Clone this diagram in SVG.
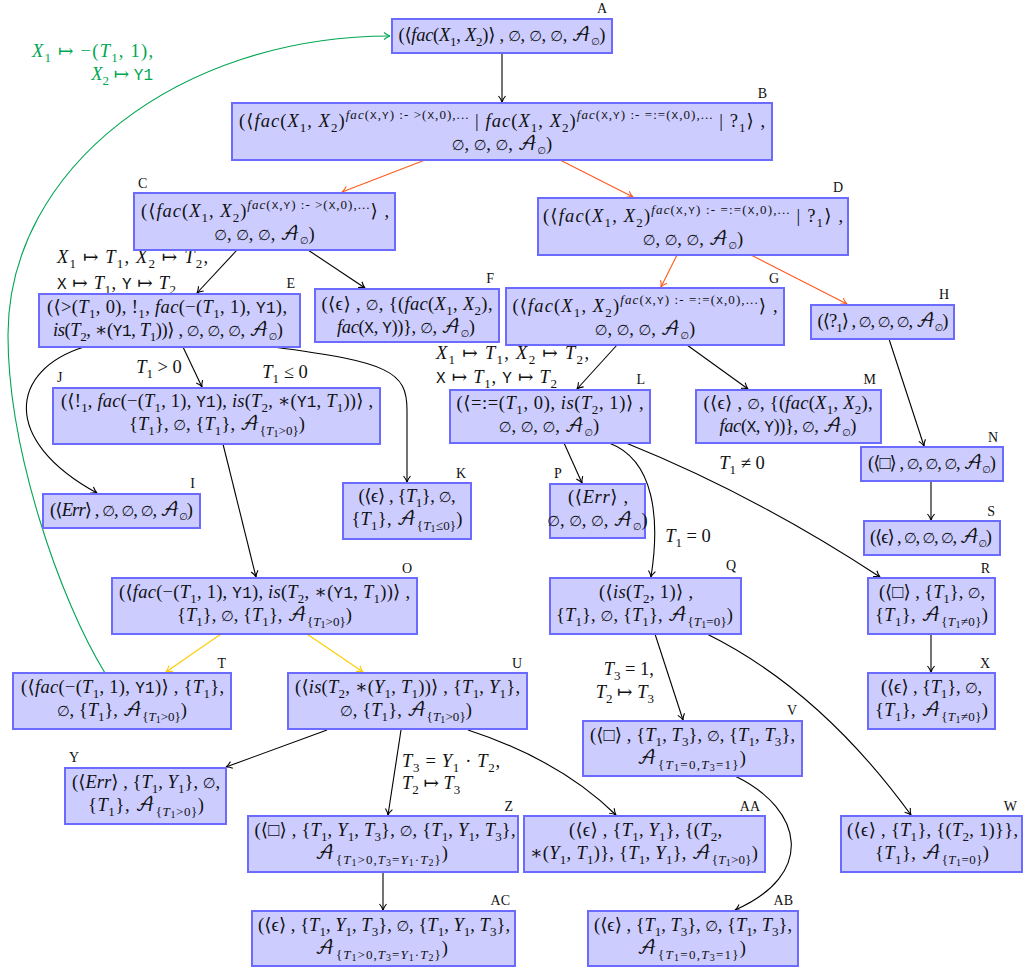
<svg xmlns="http://www.w3.org/2000/svg" width="1023" height="969" viewBox="0 0 1023 969">
<style>
text{font-family:"Liberation Serif","DejaVu Serif",serif;font-size:18.5px;fill:#111}
.c{text-anchor:middle}
.e{text-anchor:end}
.i{font-style:italic}
.tt{font-family:"Liberation Mono","DejaVu Sans Mono",monospace;font-size:16px}
.ts{font-family:"Liberation Mono","DejaVu Sans Mono",monospace;font-size:11px}
.sb{font-size:13px;baseline-shift:-4.5px}
.s2{font-size:10px;baseline-shift:-2.5px}
.sp{font-size:13px;baseline-shift:8px}
.es{font-family:"DejaVu Sans",sans-serif;font-size:14.5px}
.s0{font-family:"DejaVu Sans",sans-serif;font-size:10px;baseline-shift:-4px}
.cal{font-family:"DejaVu Math TeX Gyre","Noto Sans Math","DejaVu Serif",serif;font-style:normal}
.lb{font-size:14px}
.box{fill:#ccccff;stroke:#6b6bff;stroke-width:2}
.ed{fill:none;stroke:#000;stroke-width:1.1;marker-end:url(#ak)}
.or{stroke:#ff5a1a;marker-end:url(#ao)}
.ye{stroke:#ffcc00;marker-end:url(#ay)}
.gr{stroke:#00a651;marker-end:url(#ag)}
.gl{fill:#00a651}
</style>
<defs>
<marker id="ak" viewBox="-8 -5 10 10" refX="0" refY="0" markerWidth="10" markerHeight="10" markerUnits="userSpaceOnUse" orient="auto"><path d="M-6,-3.5 Q-2.5,-0.6 0,0 Q-2.5,0.6 -6,3.5" fill="none" stroke="#000" stroke-width="1.1"/></marker>
<marker id="ao" viewBox="-8 -5 10 10" refX="0" refY="0" markerWidth="10" markerHeight="10" markerUnits="userSpaceOnUse" orient="auto"><path d="M-6,-3.5 Q-2.5,-0.6 0,0 Q-2.5,0.6 -6,3.5" fill="none" stroke="#ff5a1a" stroke-width="1.1"/></marker>
<marker id="ay" viewBox="-8 -5 10 10" refX="0" refY="0" markerWidth="10" markerHeight="10" markerUnits="userSpaceOnUse" orient="auto"><path d="M-6,-3.5 Q-2.5,-0.6 0,0 Q-2.5,0.6 -6,3.5" fill="none" stroke="#ffcc00" stroke-width="1.1"/></marker>
<marker id="ag" viewBox="-8 -5 10 10" refX="0" refY="0" markerWidth="10" markerHeight="10" markerUnits="userSpaceOnUse" orient="auto"><path d="M-6,-3.5 Q-2.5,-0.6 0,0 Q-2.5,0.6 -6,3.5" fill="none" stroke="#00a651" stroke-width="1.1"/></marker>
</defs>

<!-- connectors -->
<g id="edges">
<path class="ed" d="M502,53 L502,102"/>
<path class="ed or" d="M425,160 L342,192"/>
<path class="ed or" d="M560,160 L633,197"/>
<path class="ed" d="M237,250 L197,293"/>
<path class="ed" d="M308,250 L365,288"/>
<path class="ed or" d="M677,255 L661,287"/>
<path class="ed or" d="M751,255 L847,304"/>
<path class="ed" d="M84,347 C10,370 0,440 97,493"/>
<path class="ed" d="M183,347 L202,387"/>
<path class="ed" d="M273,347 C390,362 407,372 407,410 L407,482"/>
<path class="ed" d="M223,444 L256,577"/>
<path class="ed" d="M617,345 L577,389"/>
<path class="ed" d="M687,345 L748,389"/>
<path class="ed" d="M889,339 L924,446"/>
<path class="ed" d="M564,443 L582,483"/>
<path class="ed" d="M609,443 C655,460 660,520 651,577"/>
<path class="ed" d="M626,443 Q755,495 880,577"/>
<path class="ed" d="M931,481 L931,520"/>
<path class="ed ye" d="M221,634 L166,672"/>
<path class="ed ye" d="M307,634 L363,672"/>
<path class="ed" d="M655,634 L683,720"/>
<path class="ed" d="M707,634 Q820,690 911,815"/>
<path class="ed" d="M931,634 L931,672"/>
<path class="ed gr" d="M105,673 C60,600 8,450 8,335 C8,168 180,36 390,36"/>
<path class="ed" d="M327,730 L226,767"/>
<path class="ed" d="M401,730 L388,815"/>
<path class="ed" d="M468,730 Q560,760 616,815"/>
<path class="ed" d="M735,776 C805,810 815,875 735,910"/>
<path class="ed" d="M383,872 L383,910"/>
</g>

<!-- edge labels -->
<g id="edge-labels">
<text x="57" y="263" textLength="151"><tspan class="i">X</tspan><tspan class="sb">1</tspan> ↦ <tspan class="i">T</tspan><tspan class="sb">1</tspan>, <tspan class="i">X</tspan><tspan class="sb">2</tspan> ↦ <tspan class="i">T</tspan><tspan class="sb">2</tspan>,</text>
<text x="57" y="289" textLength="119"><tspan class="tt">X</tspan> ↦ <tspan class="i">T</tspan><tspan class="sb">1</tspan>, <tspan class="tt">Y</tspan> ↦ <tspan class="i">T</tspan><tspan class="sb">2</tspan></text>
<text x="436" y="359" textLength="153"><tspan class="i">X</tspan><tspan class="sb">1</tspan> ↦ <tspan class="i">T</tspan><tspan class="sb">1</tspan>, <tspan class="i">X</tspan><tspan class="sb">2</tspan> ↦ <tspan class="i">T</tspan><tspan class="sb">2</tspan>,</text>
<text x="436" y="383" textLength="121"><tspan class="tt">X</tspan> ↦ <tspan class="i">T</tspan><tspan class="sb">1</tspan>, <tspan class="tt">Y</tspan> ↦ <tspan class="i">T</tspan><tspan class="sb">2</tspan></text>
<text class="c" x="159" y="373"><tspan class="i">T</tspan><tspan class="sb">1</tspan> &gt; 0</text>
<text class="c" x="285" y="378"><tspan class="i">T</tspan><tspan class="sb">1</tspan> ≤ 0</text>
<text class="c" x="742" y="469"><tspan class="i">T</tspan><tspan class="sb">1</tspan> ≠ 0</text>
<text class="c" x="688" y="542"><tspan class="i">T</tspan><tspan class="sb">1</tspan> = 0</text>
<text class="e" x="654" y="675"><tspan class="i">T</tspan><tspan class="sb">3</tspan> = 1,</text>
<text class="e" x="654" y="698"><tspan class="i">T</tspan><tspan class="sb">2</tspan> ↦ <tspan class="i">T</tspan><tspan class="sb">3</tspan></text>
<text x="402" y="767" textLength="98"><tspan class="i">T</tspan><tspan class="sb">3</tspan> = <tspan class="i">Y</tspan><tspan class="sb">1</tspan> · <tspan class="i">T</tspan><tspan class="sb">2</tspan>,</text>
<text x="402" y="789"><tspan class="i">T</tspan><tspan class="sb">2</tspan> ↦ <tspan class="i">T</tspan><tspan class="sb">3</tspan></text>
<text class="e gl" x="153" y="57" textLength="121"><tspan class="i">X</tspan><tspan class="sb">1</tspan> ↦ −(<tspan class="i">T</tspan><tspan class="sb">1</tspan>, 1),</text>
<text class="e gl" x="153" y="80"><tspan class="i">X</tspan><tspan class="sb">2</tspan> ↦ <tspan class="tt">Y1</tspan></text>
</g>

<!-- nodes -->
<g id="A"><rect class="box" x="392" y="19" width="220" height="34"/>
<text class="c" x="502" y="41" textLength="207">(⟨<tspan class="i">fac</tspan>(<tspan class="i">X</tspan><tspan class="sb">1</tspan>, <tspan class="i">X</tspan><tspan class="sb">2</tspan>)⟩ , <tspan class="es">∅</tspan>, <tspan class="es">∅</tspan>, <tspan class="es">∅</tspan>, <tspan class="cal">𝒜</tspan><tspan class="s0">∅</tspan>)</text>
<text class="lb e" x="607" y="13">A</text></g>

<g id="B"><rect class="box" x="232" y="103" width="540" height="57"/>
<text class="c" x="502" y="127" textLength="526">(⟨<tspan class="i">fac</tspan>(<tspan class="i">X</tspan><tspan class="sb">1</tspan>, <tspan class="i">X</tspan><tspan class="sb">2</tspan>)<tspan class="sp"><tspan class="i">fac</tspan>(<tspan class="ts">X</tspan>,<tspan class="ts">Y</tspan>) :- &gt;(<tspan class="ts">X</tspan>,0),...</tspan> | <tspan class="i">fac</tspan>(<tspan class="i">X</tspan><tspan class="sb">1</tspan>, <tspan class="i">X</tspan><tspan class="sb">2</tspan>)<tspan class="sp"><tspan class="i">fac</tspan>(<tspan class="ts">X</tspan>,<tspan class="ts">Y</tspan>) :- =:=(<tspan class="ts">X</tspan>,0),...</tspan> | ?<tspan class="sb">1</tspan>⟩ ,</text>
<text class="c" x="502" y="150"><tspan class="es">∅</tspan>, <tspan class="es">∅</tspan>, <tspan class="es">∅</tspan>, <tspan class="cal">𝒜</tspan><tspan class="s0">∅</tspan>)</text>
<text class="lb e" x="767" y="98">B</text></g>

<g id="C"><rect class="box" x="134" y="193" width="261" height="57"/>
<text class="c" x="265" y="217" textLength="248">(⟨<tspan class="i">fac</tspan>(<tspan class="i">X</tspan><tspan class="sb">1</tspan>, <tspan class="i">X</tspan><tspan class="sb">2</tspan>)<tspan class="sp"><tspan class="i">fac</tspan>(<tspan class="ts">X</tspan>,<tspan class="ts">Y</tspan>) :- &gt;(<tspan class="ts">X</tspan>,0),...</tspan>⟩ ,</text>
<text class="c" x="264.5" y="240"><tspan class="es">∅</tspan>, <tspan class="es">∅</tspan>, <tspan class="es">∅</tspan>, <tspan class="cal">𝒜</tspan><tspan class="s0">∅</tspan>)</text>
<text class="lb" x="138" y="188">C</text></g>

<g id="D"><rect class="box" x="538" y="198" width="310" height="57"/>
<text class="c" x="693" y="222" textLength="300">(⟨<tspan class="i">fac</tspan>(<tspan class="i">X</tspan><tspan class="sb">1</tspan>, <tspan class="i">X</tspan><tspan class="sb">2</tspan>)<tspan class="sp"><tspan class="i">fac</tspan>(<tspan class="ts">X</tspan>,<tspan class="ts">Y</tspan>) :- =:=(<tspan class="ts">X</tspan>,0),...</tspan> | ?<tspan class="sb">1</tspan>⟩ ,</text>
<text class="c" x="693" y="245"><tspan class="es">∅</tspan>, <tspan class="es">∅</tspan>, <tspan class="es">∅</tspan>, <tspan class="cal">𝒜</tspan><tspan class="s0">∅</tspan>)</text>
<text class="lb e" x="843" y="192">D</text></g>

<g id="E"><rect class="box" x="39" y="294" width="261" height="53"/>
<text class="c" x="167" y="313" textLength="240">(⟨&gt;(<tspan class="i">T</tspan><tspan class="sb">1</tspan>, 0), !<tspan class="sb">1</tspan>, <tspan class="i">fac</tspan>(−(<tspan class="i">T</tspan><tspan class="sb">1</tspan>, 1), <tspan class="tt">Y1</tspan>),</text>
<text class="c" x="168" y="336" textLength="230"><tspan class="i">is</tspan>(<tspan class="i">T</tspan><tspan class="sb">2</tspan>, ∗(<tspan class="tt">Y1</tspan>, <tspan class="i">T</tspan><tspan class="sb">1</tspan>))⟩ , <tspan class="es">∅</tspan>, <tspan class="es">∅</tspan>, <tspan class="es">∅</tspan>, <tspan class="cal">𝒜</tspan><tspan class="s0">∅</tspan>)</text>
<text class="lb e" x="295" y="288">E</text></g>

<g id="F"><rect class="box" x="315" y="289" width="184" height="53"/>
<text class="c" x="407" y="310" textLength="171">(⟨ϵ⟩ , <tspan class="es">∅</tspan>, {(<tspan class="i">fac</tspan>(<tspan class="i">X</tspan><tspan class="sb">1</tspan>, <tspan class="i">X</tspan><tspan class="sb">2</tspan>),</text>
<text class="c" x="406" y="333" textLength="138"><tspan class="i">fac</tspan>(<tspan class="tt">X</tspan>, <tspan class="tt">Y</tspan>))}, <tspan class="es">∅</tspan>, <tspan class="cal">𝒜</tspan><tspan class="s0">∅</tspan>)</text>
<text class="lb e" x="494" y="283">F</text></g>

<g id="G"><rect class="box" x="506" y="288" width="278" height="57"/>
<text class="c" x="645" y="312" textLength="265">(⟨<tspan class="i">fac</tspan>(<tspan class="i">X</tspan><tspan class="sb">1</tspan>, <tspan class="i">X</tspan><tspan class="sb">2</tspan>)<tspan class="sp"><tspan class="i">fac</tspan>(<tspan class="ts">X</tspan>,<tspan class="ts">Y</tspan>) :- =:=(<tspan class="ts">X</tspan>,0),...</tspan>⟩ ,</text>
<text class="c" x="645" y="335"><tspan class="es">∅</tspan>, <tspan class="es">∅</tspan>, <tspan class="es">∅</tspan>, <tspan class="cal">𝒜</tspan><tspan class="s0">∅</tspan>)</text>
<text class="lb e" x="779" y="283">G</text></g>

<g id="H"><rect class="box" x="811" y="305" width="143" height="34"/>
<text class="c" x="883" y="327" textLength="131">(⟨?<tspan class="sb">1</tspan>⟩ , <tspan class="es">∅</tspan>, <tspan class="es">∅</tspan>, <tspan class="es">∅</tspan>, <tspan class="cal">𝒜</tspan><tspan class="s0">∅</tspan>)</text>
<text class="lb e" x="949" y="299">H</text></g>

<g id="J"><rect class="box" x="53" y="388" width="327" height="56"/>
<text class="c" x="217" y="407" textLength="312">(⟨!<tspan class="sb">1</tspan>, <tspan class="i">fac</tspan>(−(<tspan class="i">T</tspan><tspan class="sb">1</tspan>, 1), <tspan class="tt">Y1</tspan>), <tspan class="i">is</tspan>(<tspan class="i">T</tspan><tspan class="sb">2</tspan>, ∗(<tspan class="tt">Y1</tspan>, <tspan class="i">T</tspan><tspan class="sb">1</tspan>))⟩ ,</text>
<text class="c" x="217" y="430" textLength="176">{<tspan class="i">T</tspan><tspan class="sb">1</tspan>}, <tspan class="es">∅</tspan>, {<tspan class="i">T</tspan><tspan class="sb">1</tspan>}, <tspan class="cal">𝒜</tspan><tspan class="sb">{<tspan class="i">T</tspan><tspan class="s2">1</tspan>&gt;0}</tspan>)</text>
<text class="lb" x="57" y="382">J</text></g>

<g id="L"><rect class="box" x="450" y="390" width="200" height="53"/>
<text class="c" x="550" y="409" textLength="187">(⟨=:=(<tspan class="i">T</tspan><tspan class="sb">1</tspan>, 0), <tspan class="i">is</tspan>(<tspan class="i">T</tspan><tspan class="sb">2</tspan>, 1)⟩ ,</text>
<text class="c" x="549" y="432"><tspan class="es">∅</tspan>, <tspan class="es">∅</tspan>, <tspan class="es">∅</tspan>, <tspan class="cal">𝒜</tspan><tspan class="s0">∅</tspan>)</text>
<text class="lb e" x="645" y="384">L</text></g>

<g id="M"><rect class="box" x="696" y="390" width="185" height="53"/>
<text class="c" x="788" y="409" textLength="169">(⟨ϵ⟩ , <tspan class="es">∅</tspan>, {(<tspan class="i">fac</tspan>(<tspan class="i">X</tspan><tspan class="sb">1</tspan>, <tspan class="i">X</tspan><tspan class="sb">2</tspan>),</text>
<text class="c" x="788" y="432" textLength="137"><tspan class="i">fac</tspan>(<tspan class="tt">X</tspan>, <tspan class="tt">Y</tspan>))}, <tspan class="es">∅</tspan>, <tspan class="cal">𝒜</tspan><tspan class="s0">∅</tspan>)</text>
<text class="lb e" x="876" y="384">M</text></g>

<g id="N"><rect class="box" x="861" y="447" width="142" height="34"/>
<text class="c" x="932" y="469" textLength="128">(⟨□⟩ , <tspan class="es">∅</tspan>, <tspan class="es">∅</tspan>, <tspan class="es">∅</tspan>, <tspan class="cal">𝒜</tspan><tspan class="s0">∅</tspan>)</text>
<text class="lb e" x="998" y="442">N</text></g>

<g id="I"><rect class="box" x="43" y="494" width="157" height="34"/>
<text class="c" x="121.5" y="516" textLength="143">(⟨<tspan class="i">Err</tspan>⟩ , <tspan class="es">∅</tspan>, <tspan class="es">∅</tspan>, <tspan class="es">∅</tspan>, <tspan class="cal">𝒜</tspan><tspan class="s0">∅</tspan>)</text>
<text class="lb e" x="195" y="488">I</text></g>

<g id="K"><rect class="box" x="343" y="483" width="128" height="56"/>
<text class="c" x="407" y="502" textLength="97">(⟨ϵ⟩ , {<tspan class="i">T</tspan><tspan class="sb">1</tspan>}, <tspan class="es">∅</tspan>,</text>
<text class="c" x="407" y="525" textLength="111">{<tspan class="i">T</tspan><tspan class="sb">1</tspan>}, <tspan class="cal">𝒜</tspan><tspan class="sb">{<tspan class="i">T</tspan><tspan class="s2">1</tspan>≤0}</tspan>)</text>
<text class="lb e" x="466" y="478">K</text></g>

<g id="P"><rect class="box" x="550" y="484" width="95" height="54"/>
<text class="c" x="598" y="503" textLength="60">(⟨<tspan class="i">Err</tspan>⟩ ,</text>
<text class="c" x="597.5" y="526"><tspan class="es">∅</tspan>, <tspan class="es">∅</tspan>, <tspan class="es">∅</tspan>, <tspan class="cal">𝒜</tspan><tspan class="s0">∅</tspan>)</text>
<text class="lb" x="554" y="478">P</text></g>

<g id="S"><rect class="box" x="864" y="521" width="136" height="34"/>
<text class="c" x="931" y="543" textLength="122">(⟨ϵ⟩ , <tspan class="es">∅</tspan>, <tspan class="es">∅</tspan>, <tspan class="es">∅</tspan>, <tspan class="cal">𝒜</tspan><tspan class="s0">∅</tspan>)</text>
<text class="lb e" x="995" y="516">S</text></g>

<g id="O"><rect class="box" x="112" y="578" width="305" height="56"/>
<text class="c" x="264.5" y="598" textLength="291">(⟨<tspan class="i">fac</tspan>(−(<tspan class="i">T</tspan><tspan class="sb">1</tspan>, 1), <tspan class="tt">Y1</tspan>), <tspan class="i">is</tspan>(<tspan class="i">T</tspan><tspan class="sb">2</tspan>, ∗(<tspan class="tt">Y1</tspan>, <tspan class="i">T</tspan><tspan class="sb">1</tspan>))⟩ ,</text>
<text class="c" x="264.5" y="621" textLength="175">{<tspan class="i">T</tspan><tspan class="sb">1</tspan>}, <tspan class="es">∅</tspan>, {<tspan class="i">T</tspan><tspan class="sb">1</tspan>}, <tspan class="cal">𝒜</tspan><tspan class="sb">{<tspan class="i">T</tspan><tspan class="s2">1</tspan>&gt;0}</tspan>)</text>
<text class="lb e" x="412" y="573">O</text></g>

<g id="Q"><rect class="box" x="550" y="578" width="191" height="56"/>
<text class="c" x="646" y="598" textLength="94">(⟨<tspan class="i">is</tspan>(<tspan class="i">T</tspan><tspan class="sb">2</tspan>, 1)⟩ ,</text>
<text class="c" x="644.5" y="621" textLength="177">{<tspan class="i">T</tspan><tspan class="sb">1</tspan>}, <tspan class="es">∅</tspan>, {<tspan class="i">T</tspan><tspan class="sb">1</tspan>}, <tspan class="cal">𝒜</tspan><tspan class="sb">{<tspan class="i">T</tspan><tspan class="s2">1</tspan>=0}</tspan>)</text>
<text class="lb e" x="736" y="570">Q</text></g>

<g id="R"><rect class="box" x="868" y="578" width="127" height="56"/>
<text class="c" x="932" y="598" textLength="106">(⟨□⟩ , {<tspan class="i">T</tspan><tspan class="sb">1</tspan>}, <tspan class="es">∅</tspan>,</text>
<text class="c" x="931.5" y="621" textLength="113">{<tspan class="i">T</tspan><tspan class="sb">1</tspan>}, <tspan class="cal">𝒜</tspan><tspan class="sb">{<tspan class="i">T</tspan><tspan class="s2">1</tspan>≠0}</tspan>)</text>
<text class="lb e" x="990" y="573">R</text></g>

<g id="T"><rect class="box" x="13" y="673" width="218" height="56"/>
<text class="c" x="122.5" y="693" textLength="203">(⟨<tspan class="i">fac</tspan>(−(<tspan class="i">T</tspan><tspan class="sb">1</tspan>, 1), <tspan class="tt">Y1</tspan>)⟩ , {<tspan class="i">T</tspan><tspan class="sb">1</tspan>},</text>
<text class="c" x="122" y="716" textLength="130"><tspan class="es">∅</tspan>, {<tspan class="i">T</tspan><tspan class="sb">1</tspan>}, <tspan class="cal">𝒜</tspan><tspan class="sb">{<tspan class="i">T</tspan><tspan class="s2">1</tspan>&gt;0}</tspan>)</text>
<text class="lb e" x="226" y="668">T</text></g>

<g id="U"><rect class="box" x="288" y="673" width="239" height="56"/>
<text class="c" x="407.5" y="693" textLength="225">(⟨<tspan class="i">is</tspan>(<tspan class="i">T</tspan><tspan class="sb">2</tspan>, ∗(<tspan class="i">Y</tspan><tspan class="sb">1</tspan>, <tspan class="i">T</tspan><tspan class="sb">1</tspan>))⟩ , {<tspan class="i">T</tspan><tspan class="sb">1</tspan>, <tspan class="i">Y</tspan><tspan class="sb">1</tspan>},</text>
<text class="c" x="406" y="716" textLength="132"><tspan class="es">∅</tspan>, {<tspan class="i">T</tspan><tspan class="sb">1</tspan>}, <tspan class="cal">𝒜</tspan><tspan class="sb">{<tspan class="i">T</tspan><tspan class="s2">1</tspan>&gt;0}</tspan>)</text>
<text class="lb e" x="522" y="668">U</text></g>

<g id="X"><rect class="box" x="868" y="673" width="127" height="56"/>
<text class="c" x="931.5" y="693" textLength="101">(⟨ϵ⟩ , {<tspan class="i">T</tspan><tspan class="sb">1</tspan>}, <tspan class="es">∅</tspan>,</text>
<text class="c" x="931.5" y="716" textLength="113">{<tspan class="i">T</tspan><tspan class="sb">1</tspan>}, <tspan class="cal">𝒜</tspan><tspan class="sb">{<tspan class="i">T</tspan><tspan class="s2">1</tspan>≠0}</tspan>)</text>
<text class="lb e" x="990" y="668">X</text></g>

<g id="V"><rect class="box" x="583" y="721" width="219" height="55"/>
<text class="c" x="692.5" y="741" textLength="205">(⟨□⟩ , {<tspan class="i">T</tspan><tspan class="sb">1</tspan>, <tspan class="i">T</tspan><tspan class="sb">3</tspan>}, <tspan class="es">∅</tspan>, {<tspan class="i">T</tspan><tspan class="sb">1</tspan>, <tspan class="i">T</tspan><tspan class="sb">3</tspan>},</text>
<text class="c" x="691.5" y="764" textLength="109"><tspan class="cal">𝒜</tspan><tspan class="sb">{<tspan class="i">T</tspan><tspan class="s2">1</tspan>=0,<tspan class="i">T</tspan><tspan class="s2">3</tspan>=1}</tspan>)</text>
<text class="lb e" x="797" y="715">V</text></g>

<g id="Y"><rect class="box" x="65" y="768" width="161" height="56"/>
<text class="c" x="146" y="788" textLength="148">(⟨<tspan class="i">Err</tspan>⟩ , {<tspan class="i">T</tspan><tspan class="sb">1</tspan>, <tspan class="i">Y</tspan><tspan class="sb">1</tspan>}, <tspan class="es">∅</tspan>,</text>
<text class="c" x="146" y="811" textLength="116">{<tspan class="i">T</tspan><tspan class="sb">1</tspan>}, <tspan class="cal">𝒜</tspan><tspan class="sb">{<tspan class="i">T</tspan><tspan class="s2">1</tspan>&gt;0}</tspan>)</text>
<text class="lb" x="69" y="762">Y</text></g>

<g id="Z"><rect class="box" x="248" y="816" width="270" height="56"/>
<text class="c" x="385" y="836" textLength="261">(⟨□⟩ , {<tspan class="i">T</tspan><tspan class="sb">1</tspan>, <tspan class="i">Y</tspan><tspan class="sb">1</tspan>, <tspan class="i">T</tspan><tspan class="sb">3</tspan>}, <tspan class="es">∅</tspan>, {<tspan class="i">T</tspan><tspan class="sb">1</tspan>, <tspan class="i">Y</tspan><tspan class="sb">1</tspan>, <tspan class="i">T</tspan><tspan class="sb">3</tspan>},</text>
<text class="c" x="381.5" y="859" textLength="133"><tspan class="cal">𝒜</tspan><tspan class="sb">{<tspan class="i">T</tspan><tspan class="s2">1</tspan>&gt;0,<tspan class="i">T</tspan><tspan class="s2">3</tspan>=<tspan class="i">Y</tspan><tspan class="s2">1</tspan>·<tspan class="i">T</tspan><tspan class="s2">2</tspan>}</tspan>)</text>
<text class="lb e" x="513" y="811">Z</text></g>

<g id="AA"><rect class="box" x="524" y="816" width="241" height="56"/>
<text class="c" x="645.5" y="836" textLength="153">(⟨ϵ⟩ , {<tspan class="i">T</tspan><tspan class="sb">1</tspan>, <tspan class="i">Y</tspan><tspan class="sb">1</tspan>}, {(<tspan class="i">T</tspan><tspan class="sb">2</tspan>,</text>
<text class="c" x="644" y="859" textLength="228">∗(<tspan class="i">Y</tspan><tspan class="sb">1</tspan>, <tspan class="i">T</tspan><tspan class="sb">1</tspan>)}, {<tspan class="i">T</tspan><tspan class="sb">1</tspan>, <tspan class="i">Y</tspan><tspan class="sb">1</tspan>}, <tspan class="cal">𝒜</tspan><tspan class="sb">{<tspan class="i">T</tspan><tspan class="s2">1</tspan>&gt;0}</tspan>)</text>
<text class="lb e" x="760" y="811">AA</text></g>

<g id="W"><rect class="box" x="841" y="816" width="181" height="56"/>
<text class="c" x="932.5" y="836" textLength="171">(⟨ϵ⟩ , {<tspan class="i">T</tspan><tspan class="sb">1</tspan>}, {(<tspan class="i">T</tspan><tspan class="sb">2</tspan>, 1)}},</text>
<text class="c" x="932" y="859" textLength="114">{<tspan class="i">T</tspan><tspan class="sb">1</tspan>}, <tspan class="cal">𝒜</tspan><tspan class="sb">{<tspan class="i">T</tspan><tspan class="s2">1</tspan>=0}</tspan>)</text>
<text class="lb e" x="1017" y="811">W</text></g>

<g id="AC"><rect class="box" x="252" y="911" width="263" height="55"/>
<text class="c" x="384" y="931" textLength="252">(⟨ϵ⟩ , {<tspan class="i">T</tspan><tspan class="sb">1</tspan>, <tspan class="i">Y</tspan><tspan class="sb">1</tspan>, <tspan class="i">T</tspan><tspan class="sb">3</tspan>}, <tspan class="es">∅</tspan>, {<tspan class="i">T</tspan><tspan class="sb">1</tspan>, <tspan class="i">Y</tspan><tspan class="sb">1</tspan>, <tspan class="i">T</tspan><tspan class="sb">3</tspan>},</text>
<text class="c" x="381.5" y="954" textLength="133"><tspan class="cal">𝒜</tspan><tspan class="sb">{<tspan class="i">T</tspan><tspan class="s2">1</tspan>&gt;0,<tspan class="i">T</tspan><tspan class="s2">3</tspan>=<tspan class="i">Y</tspan><tspan class="s2">1</tspan>·<tspan class="i">T</tspan><tspan class="s2">2</tspan>}</tspan>)</text>
<text class="lb e" x="510" y="905">AC</text></g>

<g id="AB"><rect class="box" x="588" y="911" width="210" height="55"/>
<text class="c" x="693" y="931" textLength="198">(⟨ϵ⟩ , {<tspan class="i">T</tspan><tspan class="sb">1</tspan>, <tspan class="i">T</tspan><tspan class="sb">3</tspan>}, <tspan class="es">∅</tspan>, {<tspan class="i">T</tspan><tspan class="sb">1</tspan>, <tspan class="i">T</tspan><tspan class="sb">3</tspan>},</text>
<text class="c" x="691.5" y="954" textLength="109"><tspan class="cal">𝒜</tspan><tspan class="sb">{<tspan class="i">T</tspan><tspan class="s2">1</tspan>=0,<tspan class="i">T</tspan><tspan class="s2">3</tspan>=1}</tspan>)</text>
<text class="lb e" x="793" y="905">AB</text></g>
</svg>
